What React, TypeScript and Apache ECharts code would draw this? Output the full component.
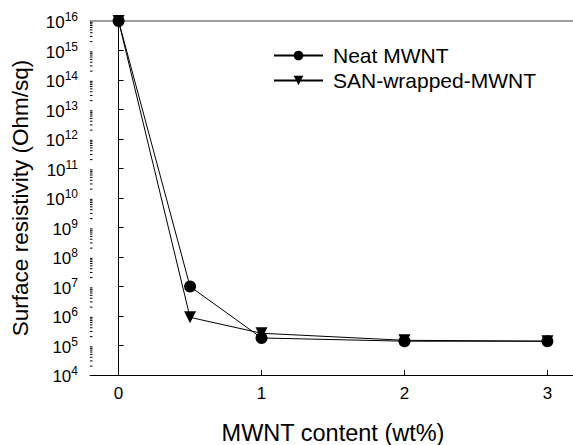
import React, { useEffect, useRef } from "react";
import * as echarts from "echarts";

const xValues = [0, 0.5, 1, 2, 3];
const neatMWNT = [1e16, 1.0e7, 1.8e5, 1.4e5, 1.4e5];
const sanWrapped = [1e16, 9e5, 2.6e5, 1.5e5, 1.4e5];
const xTicks = [0, 1, 2, 3];
const minorTickValues: number[] = [];
for (let e = 4; e < 16; e++) {
  for (let k = 2; k <= 9; k++) minorTickValues.push(k * Math.pow(10, e));
}

export default function App() {
  const ref = useRef<HTMLDivElement>(null);
  useEffect(() => {
    if (!ref.current) return;
    const chart = echarts.init(ref.current, null, { renderer: "svg" });
    const font = "Liberation Sans, Arial, sans-serif";
    chart.setOption({
      animation: false,
      textStyle: { fontFamily: font },
      grid: { left: 90, top: 21, height: 354, width: 486, outerBoundsMode: "none", containLabel: false },
      legend: {
        orient: "vertical",
        left: 268,
        top: 40,
        itemWidth: 49,
        itemHeight: 12,
        itemGap: 4,
        data: ["Neat MWNT", "SAN-wrapped-MWNT"],
        textStyle: { fontSize: 21, color: "#000", padding: [0, 0, 0, 5], fontFamily: font },
      },
      xAxis: [
        {
          type: "value",
          min: -0.2,
          max: 3.2,
          name: "MWNT content (wt%)",
          nameLocation: "middle",
          nameGap: 46,
          nameTextStyle: { fontSize: 23.5, lineHeight: 24, color: "#000", fontFamily: font },
          axisLine: { lineStyle: { color: "#000", width: 1 } },
          axisTick: { inside: true, length: 5, customValues: xTicks, lineStyle: { color: "#000" } },
          axisLabel: { customValues: xTicks, fontSize: 17, color: "#000", margin: 10, fontFamily: font },
          splitLine: { show: false },
        },
        {
          type: "value",
          position: "top",
          min: -0.2,
          max: 3.2,
          axisLine: { show: true, lineStyle: { color: "#808080", width: 1.5 } },
          axisTick: { show: false },
          axisLabel: { show: false },
          splitLine: { show: false },
        },
      ],
      yAxis: {
        type: "log",
        logBase: 10,
        min: 1e4,
        max: 1e16,
        interval: 1,
        name: "Surface resistivity (Ohm/sq)",
        nameLocation: "middle",
        nameGap: 58,
        nameTextStyle: { fontSize: 22.5, color: "#000", fontFamily: font },
        axisLine: { show: true, lineStyle: { color: "#000", width: 1 } },
        axisTick: { inside: true, length: 5, lineStyle: { color: "#000" } },
        splitLine: { show: false },
        axisLabel: {
          margin: 12,
          color: "#000",
          fontFamily: font,
          formatter: (v: number) => "{b|10}{s|" + Math.round(Math.log10(v)) + "}",
          rich: {
            b: { fontSize: 17, lineHeight: 20, verticalAlign: "bottom", color: "#000", fontFamily: font },
            s: { fontSize: 12, lineHeight: 20, verticalAlign: "top", color: "#000", fontFamily: font },
          },
        },
      },
      series: [
        {
          type: "custom",
          silent: true,
          clip: false,
          data: minorTickValues.map((v) => [-0.2, v]),
          renderItem: (params: any, api: any) => {
            const p = api.coord([api.value(0), api.value(1)]);
            return {
              type: "line",
              shape: { x1: p[0], y1: p[1], x2: p[0] + 2.5, y2: p[1] },
              style: { stroke: "#000", lineWidth: 1 },
            };
          },
        },
        {
          name: "SAN-wrapped-MWNT",
          type: "line",
          data: xValues.map((x, i) => [x, sanWrapped[i]]),
          symbol: "triangle",
          symbolRotate: 180,
          symbolSize: 12,
          lineStyle: { color: "#000", width: 1 },
          itemStyle: { color: "#000" },
          clip: false,
        },
        {
          name: "Neat MWNT",
          type: "line",
          data: xValues.map((x, i) => [x, neatMWNT[i]]),
          symbol: "circle",
          symbolSize: 12,
          lineStyle: { color: "#000", width: 1 },
          itemStyle: { color: "#000" },
          clip: false,
        },
      ],
    });
    return () => chart.dispose();
  }, []);
  return (
    <div
      ref={ref}
      style={{ position: "absolute", left: 0, top: 0, width: 573, height: 445, background: "#fff" }}
    />
  );
}
